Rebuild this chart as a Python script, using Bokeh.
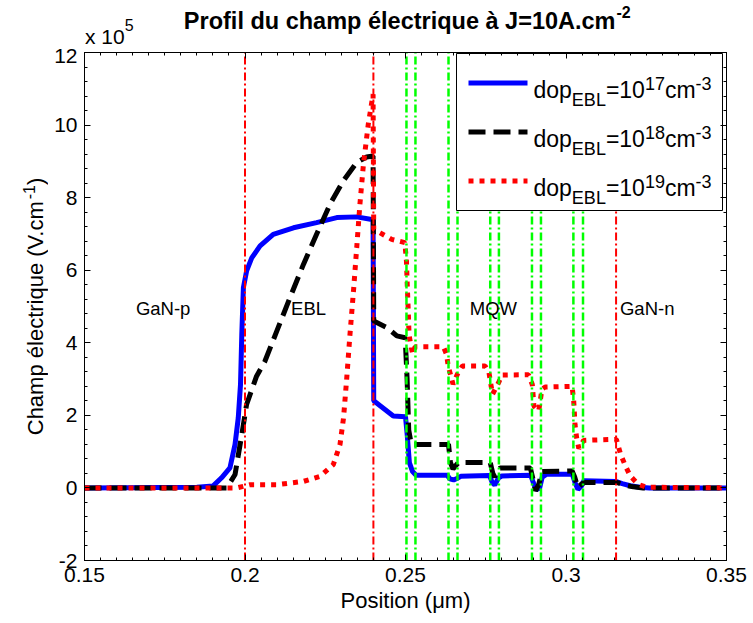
import math
from bokeh.plotting import figure
from bokeh.layouts import row, column
from bokeh.models import Range1d, LinearAxis, FixedTicker
from bokeh.embed import file_html
from bokeh.resources import INLINE
from bokeh.core.properties import value

# ---------------- data (field in units of 1e5 V/cm) ----------------
x_1e17 = [0.15, 0.185, 0.190, 0.1927, 0.1953, 0.1969, 0.1979, 0.1986, 0.1990, 0.1995,
          0.2005, 0.2021, 0.2047, 0.2088, 0.2151, 0.2223, 0.2286, 0.2348, 0.2395, 0.2399,
          0.2401, 0.2462, 0.2500, 0.2505, 0.2512, 0.2522, 0.2533, 0.2630, 0.2638, 0.2650,
          0.2660, 0.2672, 0.2700, 0.2762, 0.2770, 0.2778, 0.2790, 0.2800, 0.2890, 0.2898,
          0.2907, 0.2918, 0.2926, 0.2940, 0.3020, 0.3028, 0.3037, 0.3048, 0.3056, 0.3155,
          0.3175, 0.3200, 0.3230, 0.3260, 0.35]
y_1e17 = [0.0, 0.02, 0.05, 0.28, 0.55, 1.2, 1.93, 2.85, 4.23, 5.52,
          5.98, 6.34, 6.67, 6.99, 7.17, 7.31, 7.45, 7.47, 7.40, 7.38,
          2.40, 1.98, 1.96, 1.5, 0.7, 0.45, 0.35, 0.35, 0.25, 0.22,
          0.26, 0.32, 0.33, 0.34, 0.15, 0.08, 0.28, 0.33, 0.35, 0.15,
          -0.05, 0.0, 0.30, 0.38, 0.38, 0.15, -0.04, 0.05, 0.20, 0.18,
          0.12, 0.06, 0.02, 0.0, 0.0]

x_1e18 = [0.15, 0.1943, 0.1969, 0.1990, 0.2005, 0.2036, 0.2062, 0.2099, 0.2140, 0.2182,
          0.2223, 0.2265, 0.2306, 0.2348, 0.2379, 0.2399, 0.2401, 0.2442, 0.2473, 0.2499,
          0.2505, 0.2510, 0.2518, 0.2634, 0.2640, 0.2648, 0.2655, 0.2665, 0.2764, 0.2772,
          0.2778, 0.2785, 0.2795, 0.2889, 0.2897, 0.2905, 0.2915, 0.2925, 0.3019, 0.3027,
          0.3037, 0.3050, 0.3060, 0.3159, 0.3180, 0.3210, 0.3240, 0.35]
y_1e18 = [0.0, 0.0, 0.37, 1.47, 2.3, 3.08, 3.49, 4.32, 5.24, 6.16,
          6.99, 7.82, 8.46, 8.97, 9.12, 9.15, 4.60, 4.42, 4.19, 4.14,
          3.0, 1.6, 1.2, 1.2, 0.7, 0.52, 0.60, 0.70, 0.70, 0.40,
          0.30, 0.45, 0.55, 0.55, 0.25, -0.08, 0.10, 0.45, 0.47, 0.30,
          0.01, 0.12, 0.15, 0.15, 0.08, 0.03, 0.0, 0.0]

x_1e19 = [0.15, 0.1974, 0.2016, 0.2099, 0.2182, 0.2234, 0.2275, 0.2296, 0.2307, 0.2317,
          0.2327, 0.2338, 0.2348, 0.2358, 0.2369, 0.2384, 0.2399, 0.2401, 0.2421, 0.2457,
          0.2498, 0.2503, 0.2505, 0.2507, 0.2509, 0.2511, 0.2516, 0.2522, 0.2530, 0.2618,
          0.2628, 0.2633, 0.2648, 0.2662, 0.2677, 0.2748, 0.2760, 0.2771, 0.2790, 0.2800,
          0.2883, 0.2895, 0.2900, 0.2915, 0.2925, 0.2935, 0.3019, 0.3024, 0.3028, 0.3033,
          0.3040, 0.3055, 0.3157, 0.3170, 0.3185, 0.3200, 0.3225, 0.3250, 0.35]
y_1e19 = [0.0, 0.0, 0.09, 0.09, 0.18, 0.32, 0.64, 1.2, 1.93, 3.03,
          4.23, 5.43, 6.62, 7.82, 8.92, 10.02, 10.85, 7.13, 7.03, 6.85,
          6.76, 6.25, 5.7, 5.24, 4.78, 4.23, 3.96, 3.70, 3.89, 3.89,
          3.68, 3.36, 2.86, 3.14, 3.36, 3.36, 3.18, 2.58, 2.90, 3.11,
          3.12, 2.85, 2.26, 2.12, 2.72, 2.78, 2.80, 2.40, 1.75, 1.39,
          1.09, 1.31, 1.34, 0.93, 0.61, 0.33, 0.10, 0.02, 0.0]

boundary_red = [0.2, 0.24, 0.3156]
boundary_green = [0.2503, 0.2531, 0.2634, 0.2662, 0.2764, 0.2791, 0.2894, 0.2922, 0.3023, 0.3053]

region_names = ["GaN-p", "EBL", "MQW", "GaN-n"]
region_x = [0.1745, 0.2198, 0.2774, 0.3253]
region_y = [4.95, 4.95, 4.95, 4.95]

x_ticks = [0.15, 0.2, 0.25, 0.3, 0.35]
x_tick_labels = ["0.15", "0.2", "0.25", "0.3", "0.35"]
y_ticks = [-2, 0, 2, 4, 6, 8, 10, 12]
y_tick_labels = ["-2", "0", "2", "4", "6", "8", "10", "12"]

legend_doping = ["17", "18", "19"]
legend_colors = ["#0000ff", "black", "#ff0000"]
legend_dashes = ["solid", "17 8", "5 6"]

# ---------------- layout in page pixels ----------------
W, H = 753, 623
WL = 48            # left strip (y label)
HT = 48            # header strip (title)
HD_SHIFT = 9       # observed vertical offset of the header strip content
L, R, T, B = 84, 27, 52, 63     # frame borders in the whole picture
FW, FH = W - L - R, H - T - B
X0, X1, Y0, Y1 = 0.15, 0.35, -2, 12
FONT = "Liberation Sans"

AW = {' ': 278, '(': 333, ')': 333, '-': 333, '.': 278, '=': 584, 'A': 667, 'B': 667,
      'C': 722, 'E': 667, 'L': 556, 'V': 667, 'a': 556, 'c': 500, 'd': 556, 'e': 556,
      'h': 556, 'i': 222, 'l': 222, 'm': 833, 'o': 556, 'p': 556, 'q': 556, 'r': 333,
      't': 278, 'u': 556, 'é': 556, 'x': 500}


def tw(s, size):
    return sum(AW.get(c, 556) for c in s) / 1000.0 * size


def dx(fx):
    return X0 + (fx - L) / FW * (X1 - X0)


def dy(fy):
    return Y1 - (fy - T) / FH * (Y1 - Y0)


def hy(py):
    return HT + HD_SHIFT - py


def bare(fig):
    fig.outline_line_color = None
    fig.background_fill_color = "white"
    fig.border_fill_color = "white"
    return fig


# ---------------- main figure ----------------
p = figure(width=W - WL, height=H - HT, output_backend="svg", toolbar_location=None,
           title=None,
           x_range=Range1d(X0, X1), y_range=Range1d(Y0, Y1),
           x_axis_type=None, y_axis_type=None,
           min_border_left=L - WL, min_border_right=R, min_border_top=T - HT,
           min_border_bottom=B)
p.outline_line_color = "black"
p.outline_line_width = 1
p.background_fill_color = "white"
p.border_fill_color = "white"

x_minor = [round(X0 + 0.005 * i, 4) for i in range(41)]
y_minor = [round(Y0 + 0.4 * i, 2) for i in range(36)]


def make_axis(ticks, minor, labels, show):
    ax = LinearAxis(ticker=FixedTicker(ticks=ticks, minor_ticks=minor))
    ax.axis_line_color = "black"
    ax.major_tick_in = 6
    ax.major_tick_out = 0
    ax.minor_tick_in = 3
    ax.minor_tick_out = 0
    ax.major_tick_line_color = "black"
    ax.minor_tick_line_color = "black"
    if show:
        ax.major_label_overrides = {t: l for t, l in zip(ticks, labels)}
        ax.major_label_text_font = FONT
        ax.major_label_text_font_size = "21px"
        ax.major_label_text_color = "black"
        ax.major_label_standoff = 7
    else:
        ax.major_label_text_color = None
        ax.major_label_text_font_size = "0px"
        ax.major_label_standoff = 0
        ax.axis_label_standoff = 0
    return ax


xb = make_axis(x_ticks, x_minor, x_tick_labels, True)
xb.major_label_standoff = 7
xb.axis_label = "Position (μm)"
xb.axis_label_text_font = FONT
xb.axis_label_text_font_size = "22px"
xb.axis_label_text_font_style = "normal"
xb.axis_label_text_color = "black"
xb.axis_label_standoff = 3
p.add_layout(xb, "below")
p.add_layout(make_axis(y_ticks, y_minor, y_tick_labels, True), "left")
p.add_layout(make_axis(x_ticks, x_minor, x_tick_labels, False), "above")
p.add_layout(make_axis(y_ticks, y_minor, y_tick_labels, False), "right")

# curves
p.line(x_1e17, y_1e17, line_color=legend_colors[0], line_width=5)
p.line(x_1e18, y_1e18, line_color=legend_colors[1], line_width=5, line_dash=legend_dashes[1])
p.line(x_1e19, y_1e19, line_color=legend_colors[2], line_width=5, line_dash=legend_dashes[2])

# boundaries
p.segment(x0=boundary_green, y0=[Y0] * len(boundary_green), x1=boundary_green,
          y1=[Y1] * len(boundary_green), line_color="#00ff00", line_width=2.5,
          line_dash="8 3 2 3")
p.segment(x0=boundary_red, y0=[Y0] * len(boundary_red), x1=boundary_red,
          y1=[Y1] * len(boundary_red), line_color="#ff0000", line_width=2,
          line_dash="8 3 2 3")

# region names
p.text(x=region_x, y=region_y, text=region_names, text_font=value(FONT),
       text_font_size="18.5px", text_align="center", text_baseline="alphabetic",
       text_color="black")


def ptext(fig, xs, ys, txt, size, bold=False, align="left", angle=0.0, font=FONT):
    return fig.text(x=[xs], y=[ys], text=[txt], text_font=value(font),
                    text_font_size=f"{size}px",
                    text_font_style="bold" if bold else "normal",
                    text_align=align, text_baseline="alphabetic", angle=angle,
                    text_color="black")


# legend: box, samples, texts with sub/superscripts
p.quad(left=[dx(456)], right=[dx(722)], top=[dy(53)], bottom=[dy(210)],
       fill_color="white", line_color="black", line_width=1)
MAIN, SMALL = 23, 18
for i, d in enumerate(legend_doping):
    cy = 82.5 + 49 * i
    p.line([dx(468), dx(527)], [dy(cy), dy(cy)], line_color=legend_colors[i],
           line_width=5, line_dash=legend_dashes[i])
    base = cy + 7
    fx = 533
    for txt, sz, off in [("dop", MAIN, 0), ("EBL", SMALL, 10), ("=10", MAIN, 0),
                         (d, SMALL, -7), ("cm", MAIN, 0), ("-3", SMALL, -7)]:
        ptext(p, dx(fx), dy(base + off), txt, sz)
        fx += tw(txt, sz)

# ---------------- header strip (title, exponent) ----------------
hd = bare(figure(width=W - WL, height=HT, output_backend="svg", toolbar_location=None,
                 title=None,
                 x_range=Range1d(L, W - R), y_range=Range1d(0, HT),
                 x_axis_type=None, y_axis_type=None,
                 min_border_left=L - WL, min_border_right=R,
                 min_border_top=0, min_border_bottom=0))
ptext(hd, 615, hy(29), "Profil du champ électrique à J=10A.cm", 23.5, bold=True,
      align="right")
ptext(hd, 616, hy(20), "-2", 16, bold=True)
ptext(hd, L + 0.5, hy(45), "x 10", 21)
ptext(hd, L + 0.5 + tw("x 10", 21), hy(33), "5", 16)

# ---------------- left strip (y label) ----------------
lf = bare(figure(width=WL, height=H, output_backend="svg", toolbar_location=None,
                 title=None,
                 x_range=Range1d(0, WL), y_range=Range1d(0, H),
                 x_axis_type=None, y_axis_type=None,
                 min_border_left=0, min_border_right=0, min_border_top=0, min_border_bottom=0))
ym, ys = "Champ électrique (V.cm", "-1"
Ltot = tw(ym, 22) + tw(ys, 16) + tw(")", 22)
start = T + FH / 2 + Ltot / 2          # pixel from top where the text begins
ptext(lf, 35, H - start, ym, 22, angle=math.pi / 2)
ptext(lf, 28, H - (start - tw(ym, 22)), ys, 16, angle=math.pi / 2)
ptext(lf, 35, H - (start - tw(ym, 22) - tw(ys, 16)), ")", 22, angle=math.pi / 2)

layout = row(lf, column(hd, p, spacing=0), spacing=0)
open("out.html", "w").write(file_html(layout, INLINE))
